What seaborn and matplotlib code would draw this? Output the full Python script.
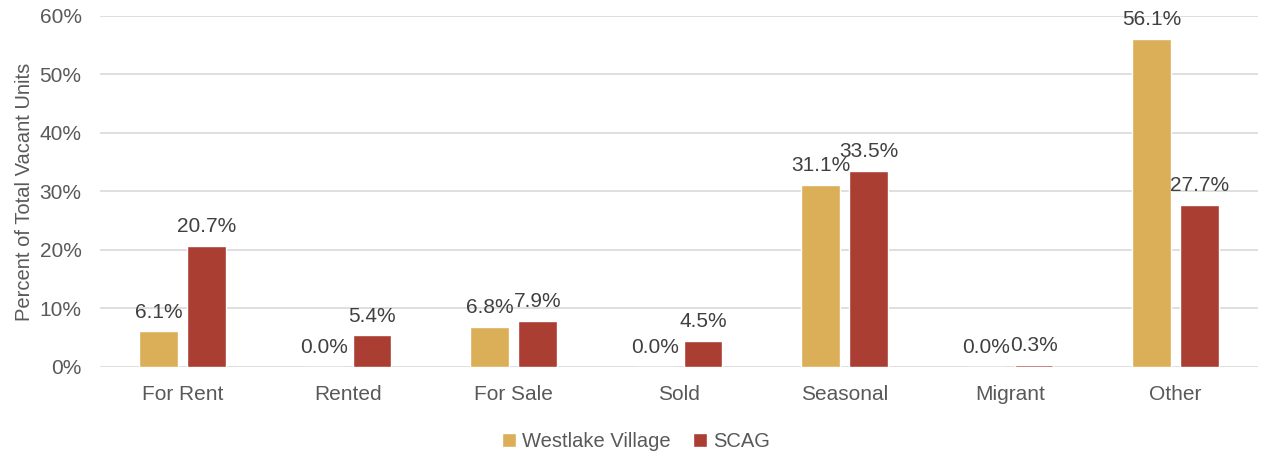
import pandas as pd
import matplotlib.pyplot as plt
import seaborn as sns
from matplotlib.ticker import PercentFormatter

categories = ['For Rent', 'Rented', 'For Sale', 'Sold', 'Seasonal', 'Migrant', 'Other']
westlake = [6.1, 0.0, 6.8, 0.0, 31.1, 0.0, 56.1]
scag = [20.7, 5.4, 7.9, 4.5, 33.5, 0.3, 27.7]
series = ['Westlake Village', 'SCAG']
colors = ['#DBAE58', '#AB3E32']

df = pd.DataFrame({'Category': categories * 2,
                   'Series': [series[0]] * 7 + [series[1]] * 7,
                   'Value': westlake + scag})

sns.set_style('white')
plt.rcParams['font.family'] = ['Liberation Sans', 'DejaVu Sans']
grey = '#595959'

fig = plt.figure(figsize=(12.62, 4.53), dpi=100)
ax = fig.add_axes([0.079, 0.19, 0.918, 0.775])

sns.barplot(data=df, x='Category', y='Value', hue='Series', palette=colors,
            saturation=1, width=0.58, gap=0.2, ax=ax, legend=True)

# data labels
for cont in ax.containers:
    ax.bar_label(cont, labels=[f'{v:.1f}%' for v in cont.datavalues],
                 padding=7, fontsize=15, color='#404040')

ax.set_ylim(0, 60)
ax.set_yticks(range(0, 61, 10))
ax.yaxis.set_major_formatter(PercentFormatter(decimals=0))
ax.grid(axis='y', color='#d9d9d9', linewidth=1.2)
ax.set_axisbelow(True)
for s in ax.spines.values():
    s.set_visible(False)
ax.tick_params(axis='both', length=0, labelsize=15, colors=grey, pad=13)
ax.set_xlabel('')
ax.set_ylabel('Percent of Total Vacant Units', fontsize=14.5, color=grey, labelpad=4)

ax.legend(loc='upper center', bbox_to_anchor=(0.463, -0.135), ncol=2, frameon=False,
          fontsize=14.5, labelcolor=grey, handlelength=0.7, handleheight=0.7,
          handletextpad=0.3, columnspacing=1.1)

fig.savefig('out.png', dpi=100)
